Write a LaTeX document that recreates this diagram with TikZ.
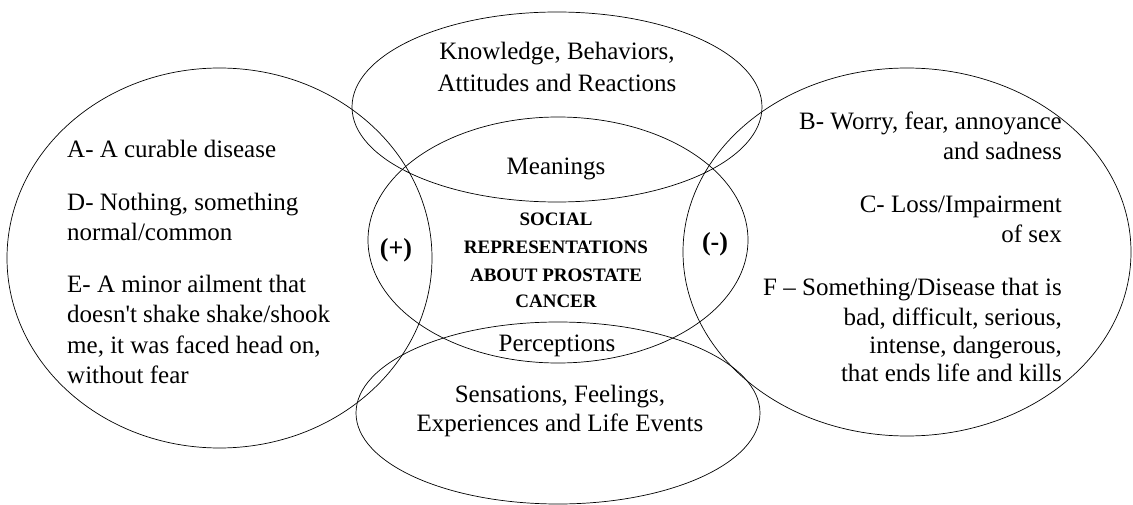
\documentclass[tikz,border=0pt]{standalone}
\usepackage{fontspec}
\setmainfont{Liberation Serif}
\usetikzlibrary{shapes.geometric}
\begin{document}
\begin{tikzpicture}[x=1pt,y=-1pt,
 ell/.style={draw, ellipse, inner sep=0pt, outer sep=0pt, line width=0.7pt},
 txt/.style={inner sep=0pt, font=\fontsize{25}{30}\selectfont},
 lt/.style={txt, anchor=base west},
 rt/.style={txt, anchor=base east},
 ct/.style={txt, anchor=base},
 bt/.style={inner sep=0pt, anchor=base, font=\fontsize{19}{23}\selectfont\bfseries},
 sg/.style={inner sep=0pt, font=\fontsize{26}{30}\selectfont\bfseries}]
\useasboundingbox (0,0) rectangle (1133,505);
% ellipses
\node[ell, minimum width=425pt, minimum height=380pt] (L) at (219.5,258) {};
\node[ell, minimum width=448pt, minimum height=368pt] (R) at (907,252) {};
\node[ell, minimum width=410pt, minimum height=190pt] (T) at (557,107) {};
\node[ell, minimum width=380pt, minimum height=246pt] (M) at (558,240) {};
\node[ell, minimum width=404pt, minimum height=182pt] (B) at (558,413) {};
% top
\node[ct] (t1) at (557,60) {Knowledge, Behaviors,};
\node[ct] (t2) at (557,92) {Attitudes and Reactions};
% middle
\node[ct] (m1) at (556,175) {Meanings};
\node[bt] (s1) at (556,226) {SOCIAL};
\node[bt] (s2) at (556,254) {REPRESENTATIONS};
\node[bt] (s3) at (556,282) {ABOUT PROSTATE};
\node[bt] (s4) at (556,308) {CANCER};
\node[ct] (m2) at (557,351) {Perceptions};
% bottom
\node[ct] (b1) at (560,402) {Sensations, Feelings,};
\node[ct] (b2) at (560,431) {Experiences and Life Events};
% signs
\node[sg] (plus) at (396,250) {(+)};
\node[sg] (minus) at (715,244) {(-)};
% left
\node[lt] (a1) at (67,158) {A- A curable disease};
\node[lt] (d1) at (67,211) {D- Nothing, something};
\node[lt] (d2) at (67,241) {normal/common};
\node[lt] (e1) at (67,293) {E- A minor ailment that};
\node[lt] (e2) at (67,323) {doesn\textquotesingle t shake shake/shook};
\node[lt] (e3) at (67,353) {me, it was faced head on,};
\node[lt] (e4) at (67,383) {without fear};
% right
\node[rt] (r1) at (1062,130) {B- Worry, fear, annoyance};
\node[rt] (r2) at (1062,160) {and sadness};
\node[rt] (r3) at (1062,213) {C- Loss/Impairment};
\node[rt] (r4) at (1062,243) {of sex};
\node[rt] (r5) at (1062,295) {F – Something/Disease that is};
\node[rt] (r6) at (1062,325) {bad, difficult, serious,};
\node[rt] (r7) at (1062,353) {intense, dangerous,};
\node[rt] (r8) at (1062,381) {that ends life and kills};
\end{tikzpicture}
\end{document}
